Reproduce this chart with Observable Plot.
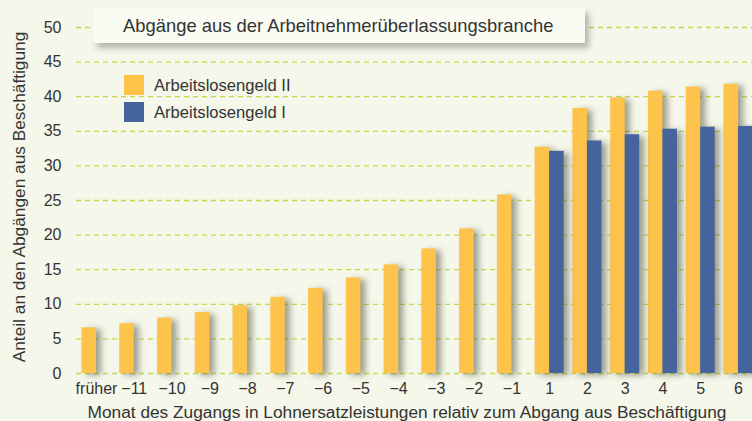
<!DOCTYPE html>
<html>
<head>
<meta charset="utf-8">
<script src="https://cdn.jsdelivr.net/npm/d3@7"></script>
<script src="https://cdn.jsdelivr.net/npm/@observablehq/plot@0.6"></script>
<style>
  html, body { margin: 0; padding: 0; background: #f5f7ea; overflow: hidden; }
  #wrap { position: relative; width: 752px; height: 421px; overflow: hidden; font-family: "Liberation Sans", Arial, sans-serif; color: #333; }
  #title { position: absolute; left: 93px; top: 8px; width: 492px; height: 35px; background: #fafbf3;
           box-shadow: 4px 5px 6px rgba(60,60,40,0.35); font-size: 18.4px; line-height: 35px; }
  #title span { position: absolute; left: 30px; top: 0px; }
  .leg { position: absolute; left: 124px; font-size: 16.6px; line-height: 20px; }
  .leg i { position: absolute; left: 0; top: 0; width: 20px; height: 20px; }
  .leg span { position: absolute; left: 30px; top: 1px; white-space: nowrap; }
  g[aria-label="bar"] { filter: drop-shadow(5px 2px 3px rgba(70,70,50,0.5)); }
</style>
</head>
<body>
<div id="wrap"></div>
<script>
const categories = ["früher","−11","−10","−9","−8","−7","−6","−5","−4","−3","−2","−1","1","2","3","4","5","6"];
const alg2 = [6.6, 7.2, 8.0, 8.8, 9.8, 11.0, 12.3, 13.8, 15.7, 18.0, 20.9, 25.8, 32.7, 38.3, 39.8, 40.8, 41.4, 41.8];
const alg1 = [null, null, null, null, null, null, null, null, null, null, null, null, 32.1, 33.6, 34.5, 35.3, 35.6, 35.7];
const yTicks = [0, 5, 10, 15, 20, 25, 30, 35, 40, 45, 50];
const seriesNames = ["Arbeitslosengeld II", "Arbeitslosengeld I"];
const colors = ["#fdc34b", "#44649b"];

const dataII = categories.map((c, i) => ({cat: c, v: alg2[i]}));
const dataI = categories.map((c, i) => ({cat: c, v: alg1[i]})).filter(d => d.v != null);

const W = 752, H = 421;
const mL = 76, mR = -6, pI = 0.232, pO = 0.146;
const step = (W - mL - mR) / (categories.length - pI + 2 * pO);
const half = (1 - pI) * step / 2;

const chart = Plot.plot({
  width: W, height: H,
  marginLeft: mL, marginRight: mR, marginTop: 27, marginBottom: 48,
  style: {background: "#f5f7ea", fontSize: "16px", fontFamily: "Liberation Sans, Arial, sans-serif", color: "#333", overflow: "hidden"},
  x: {domain: categories, paddingInner: pI, paddingOuter: pO, round: false, tickSize: 0, tickPadding: 9, label: null},
  y: {domain: [0, 50], ticks: yTicks, tickSize: 0, tickPadding: 15, label: null},
  marks: [
    Plot.ruleY(yTicks, {stroke: "#c3da4e", strokeWidth: 1.3, strokeDasharray: "5,4"}),
    Plot.barY(dataII, {x: "cat", y: "v", fill: colors[0], insetRight: half}),
    Plot.barY(dataI, {x: "cat", y: "v", fill: colors[1], insetLeft: half})
  ]
});

const wrap = document.getElementById("wrap");
wrap.appendChild(chart);
const svg = d3.select(chart);
svg.append("text")
  .attr("transform", "translate(24.5,197) rotate(-90)")
  .attr("text-anchor", "middle")
  .attr("font-size", "17.3px")
  .attr("fill", "#333")
  .text("Anteil an den Abgängen aus Beschäftigung");
svg.append("text")
  .attr("x", 407).attr("y", 417.5)
  .attr("text-anchor", "middle")
  .attr("font-size", "17.3px")
  .attr("fill", "#333")
  .text("Monat des Zugangs in Lohnersatzleistungen relativ zum Abgang aus Beschäftigung");

const title = document.createElement("div");
title.id = "title";
title.innerHTML = "<span>Abgänge aus der Arbeitnehmerüberlassungsbranche</span>";
wrap.appendChild(title);

seriesNames.forEach((name, i) => {
  const el = document.createElement("div");
  el.className = "leg";
  el.style.top = (75 + i * 27) + "px";
  el.innerHTML = `<i style="background:${colors[i]}"></i><span>${name}</span>`;
  wrap.appendChild(el);
});
</script>
</body>
</html>
